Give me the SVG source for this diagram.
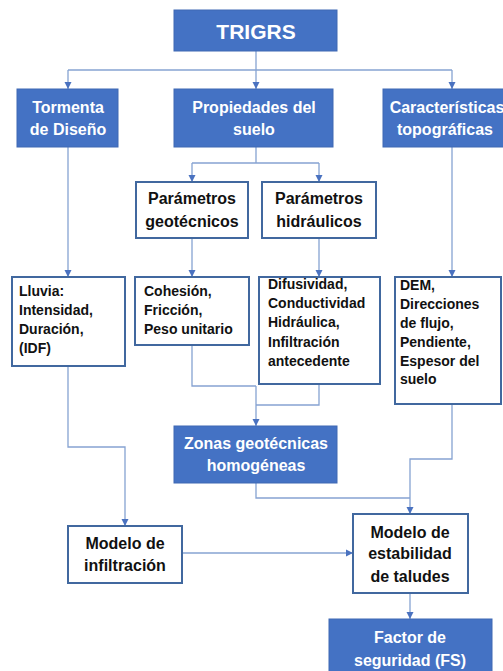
<svg xmlns="http://www.w3.org/2000/svg" width="503" height="671" viewBox="0 0 503 671">
<defs>
<marker id="ah" markerWidth="8" markerHeight="8" refX="7" refY="4" orient="auto" markerUnits="userSpaceOnUse">
<path d="M0,0.5 L7,4 L0,7.5 Z" fill="#4a72c0"/>
</marker>
</defs>
<style>
.blue{fill:#4472c4;stroke:#3f68b3;stroke-width:1}
.white{fill:#ffffff;stroke:#41689f;stroke-width:2}
.tw{font-family:"Liberation Sans",Arial,sans-serif;font-weight:bold;font-size:16px;fill:#ffffff;text-anchor:middle}
.tb{font-family:"Liberation Sans",Arial,sans-serif;font-weight:bold;font-size:16px;fill:#111111;text-anchor:middle}
.ts{font-family:"Liberation Sans",Arial,sans-serif;font-weight:bold;font-size:14px;fill:#111111}
.c{fill:none;stroke:#86a3d2;stroke-width:1.3}
</style>
<rect width="503" height="671" fill="#ffffff"/>
<g id="connectors">
<path class="c" d="M256,51 V70"/>
<path class="c" d="M68,70 H452"/>
<path class="c" d="M68,70 V89" marker-end="url(#ah)"/>
<path class="c" d="M256,70 V89" marker-end="url(#ah)"/>
<path class="c" d="M452,70 V89" marker-end="url(#ah)"/>
<path class="c" d="M256,147 V163 M192,163 H319"/>
<path class="c" d="M192,163 V182" marker-end="url(#ah)"/>
<path class="c" d="M319,163 V182" marker-end="url(#ah)"/>
<path class="c" d="M68,147 V277" marker-end="url(#ah)"/>
<path class="c" d="M192,238 V277" marker-end="url(#ah)"/>
<path class="c" d="M319,238 V277" marker-end="url(#ah)"/>
<path class="c" d="M452,147 V277" marker-end="url(#ah)"/>
<path class="c" d="M192,345 V386 H256"/>
<path class="c" d="M319,384 V405 H256"/>
<path class="c" d="M256,386 V426" marker-end="url(#ah)"/>
<path class="c" d="M68,366 V447 H125 V526" marker-end="url(#ah)"/>
<path class="c" d="M452,404 V459 H410 V514" marker-end="url(#ah)"/>
<path class="c" d="M256,483 V498 H410"/>
<path class="c" d="M182,553 H353" marker-end="url(#ah)"/>
<path class="c" d="M410,593 V619" marker-end="url(#ah)"/>
</g>
<g id="trigrs">
<rect class="blue" x="174" y="10" width="163" height="41"/>
<text class="tw" x="256" y="39" style="font-size:21px">TRIGRS</text>
</g>
<g id="tormenta">
<rect class="blue" x="17" y="89" width="101" height="58"/>
<text class="tw" x="68" y="113">Tormenta</text>
<text class="tw" x="68" y="135">de Diseño</text>
</g>
<g id="propiedades">
<rect class="blue" x="174" y="89" width="159" height="58"/>
<text class="tw" x="254" y="113">Propiedades del</text>
<text class="tw" x="254" y="135">suelo</text>
</g>
<g id="caracteristicas">
<rect class="blue" x="383" y="89" width="140" height="58"/>
<text class="tw" x="447" y="113">Características</text>
<text class="tw" x="445" y="135">topográficas</text>
</g>
<g id="geotecnicos">
<rect class="white" x="136" y="182" width="112" height="56"/>
<text class="tb" x="192" y="204">Parámetros</text>
<text class="tb" x="192" y="227">geotécnicos</text>
</g>
<g id="hidraulicos">
<rect class="white" x="262" y="182" width="114" height="56"/>
<text class="tb" x="319" y="204">Parámetros</text>
<text class="tb" x="319" y="227">hidráulicos</text>
</g>
<g id="lluvia">
<rect class="white" x="12" y="277" width="113" height="89"/>
<text class="ts" x="19" y="296">Lluvia:</text>
<text class="ts" x="19" y="314.5">Intensidad,</text>
<text class="ts" x="19" y="333.5">Duración,</text>
<text class="ts" x="19" y="352.5">(IDF)</text>
</g>
<g id="cohesion">
<rect class="white" x="135" y="277" width="114" height="68"/>
<text class="ts" x="144" y="296">Cohesión,</text>
<text class="ts" x="144" y="314.5">Fricción,</text>
<text class="ts" x="144" y="333.5">Peso unitario</text>
</g>
<g id="difusividad">
<rect class="white" x="259" y="277" width="121" height="107"/>
<text class="ts" x="268" y="288.5">Difusividad,</text>
<text class="ts" x="268" y="307.5">Conductividad</text>
<text class="ts" x="268" y="327">Hidráulica,</text>
<text class="ts" x="268" y="346.5">Infiltración</text>
<text class="ts" x="268" y="365.5">antecedente</text>
</g>
<g id="dem">
<rect class="white" x="395" y="277" width="106" height="127"/>
<text class="ts" x="400" y="290">DEM,</text>
<text class="ts" x="400" y="308.5">Direcciones</text>
<text class="ts" x="400" y="328">de flujo,</text>
<text class="ts" x="400" y="347">Pendiente,</text>
<text class="ts" x="400" y="365.5">Espesor del</text>
<text class="ts" x="400" y="384">suelo</text>
</g>
<g id="zonas">
<rect class="blue" x="174" y="426" width="163" height="57"/>
<text class="tw" x="256" y="449">Zonas geotécnicas</text>
<text class="tw" x="256" y="471">homogéneas</text>
</g>
<g id="infiltracion">
<rect class="white" x="68" y="526" width="114" height="57"/>
<text class="tb" x="125" y="549">Modelo de</text>
<text class="tb" x="125" y="571">infiltración</text>
</g>
<g id="estabilidad">
<rect class="white" x="353" y="514" width="115" height="79"/>
<text class="tb" x="410" y="538">Modelo de</text>
<text class="tb" x="410" y="559">estabilidad</text>
<text class="tb" x="410" y="582">de taludes</text>
</g>
<g id="fs">
<rect class="blue" x="329" y="619" width="163" height="60"/>
<text class="tw" x="410" y="643">Factor de</text>
<text class="tw" x="410" y="666">seguridad (FS)</text>
</g>
</svg>
